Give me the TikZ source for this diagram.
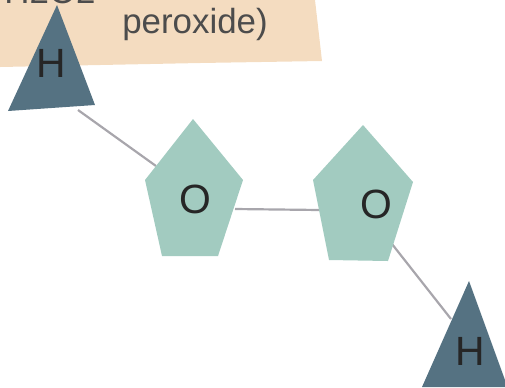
\documentclass[tikz,border=0pt]{standalone}
\usepackage{fontspec}
\setmainfont{Liberation Sans}
\definecolor{peach}{HTML}{F4DCC0}
\definecolor{teal1}{HTML}{A2CBC0}
\definecolor{slate}{HTML}{557282}
\definecolor{bond}{HTML}{A8A6AC}
\tikzset{
  atomlabel/.style={font=\fontsize{41}{41}\selectfont,text=black!85,inner sep=0pt},
  bondline/.style={draw=bond,line width=2.2pt},
  captext/.style={font=\fontsize{35}{35}\selectfont,text=black!70,inner sep=0pt},
}
\begin{document}
\begin{tikzpicture}[x=1bp,y=-1bp]
\useasboundingbox (0,0) rectangle (505,387);
\clip (0,0) rectangle (505,387);
\fill[peach] (0,0) -- (315,0) -- (322,61) -- (200,63) -- (0,67) -- cycle;
\node[captext,anchor=base] (tl) at (50,3) {H2O2};
\node[captext,anchor=base] (tp) at (195,33) {peroxide)};
\coordinate (b1a) at (78,110);
\coordinate (b1b) at (156,166);
\coordinate (b2a) at (235,209);
\coordinate (b2b) at (320,210);
\coordinate (b3a) at (392,244);
\coordinate (b3b) at (451,319);
\draw[bondline] (b1a) -- (b1b);
\draw[bondline] (b2a) -- (b2b);
\draw[bondline] (b3a) -- (b3b);
\fill[slate] (57,5) -- (95,105) -- (8,111) -- cycle;
\fill[teal1] (193,119) -- (243,180) -- (218,256) -- (162,256) -- (145,180) -- cycle;
\fill[teal1] (363,125) -- (413,182) -- (388,261) -- (329,260) -- (313,180) -- cycle;
\fill[slate] (469,281) -- (505,380) -- (505,387) -- (422,387) -- cycle;
\node[atomlabel] (H1) at (51,63) {H};
\node[atomlabel] (O1) at (195,199) {O};
\node[atomlabel] (O2) at (376,204) {O};
\node[atomlabel] (H2) at (470,351) {H};
\end{tikzpicture}
\end{document}
